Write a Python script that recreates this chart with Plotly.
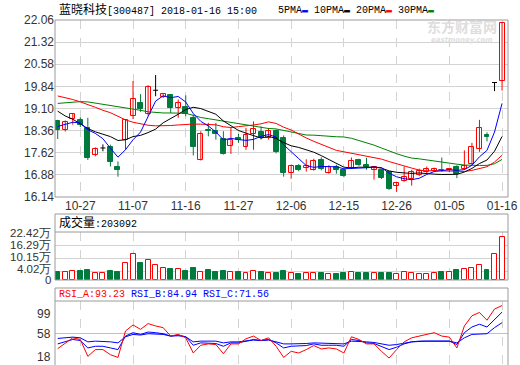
import plotly.graph_objects as go

# ---------------- data ----------------
dates = ["10-24","10-25","10-26","10-27","10-30","10-31","11-01","11-02","11-03","11-06",
         "11-07","11-08","11-09","11-10","11-13","11-14","11-15","11-16","11-17","11-20",
         "11-21","11-22","11-23","11-24","11-27","11-28","11-29","11-30","12-01","12-04",
         "12-05","12-06","12-07","12-08","12-11","12-12","12-13","12-14","12-15","12-18",
         "12-19","12-20","12-21","12-22","12-25","12-26","12-27","12-28","12-29","01-02",
         "01-03","01-04","01-05","01-08","01-09","01-10","01-11","01-12","01-15","01-16"]
tick_dates = ["10-27","11-07","11-16","11-27","12-06","12-15","12-26","01-05","01-16"]

opens = [18.67,18.38,18.75,18.73,18.45,17.53,17.78,17.81,17.13,18.06,
         18.86,19.28,18.92,19.71,19.50,19.55,19.12,19.14,18.79,17.38,
         18.37,18.36,18.09,17.83,18.10,17.81,18.25,18.30,18.11,18.34,
         18.11,16.93,17.17,17.12,17.05,17.38,16.95,17.16,17.03,17.10,
         17.38,17.20,17.04,17.04,16.98,16.52,16.67,16.74,16.86,16.97,
         17.00,17.05,17.03,17.16,17.08,17.25,17.76,18.20,19.97,20.03]
highs = [18.72,18.70,18.95,18.80,18.79,17.80,17.90,17.89,17.33,18.72,
         20.02,19.58,19.88,20.22,19.62,19.57,19.40,19.54,18.90,18.34,
         18.62,18.62,18.34,18.45,18.25,18.45,18.67,18.50,18.45,18.40,
         18.20,17.22,17.24,17.40,17.42,17.47,17.20,17.22,17.08,17.46,
         17.42,17.45,17.16,17.08,17.00,16.65,17.16,17.05,17.09,17.16,
         17.12,17.46,17.10,17.20,17.70,17.95,18.72,18.30,19.97,21.96]
lows = [18.08,18.33,18.56,18.48,17.38,17.50,17.67,17.16,16.82,17.72,
        18.75,18.99,18.86,19.51,19.45,18.95,18.79,18.84,17.53,17.36,
        18.17,18.06,17.56,17.58,17.95,17.72,17.72,18.06,18.06,17.60,
        16.82,16.75,17.00,16.99,17.02,17.03,16.92,16.92,16.80,17.08,
        17.18,17.05,16.72,16.74,16.38,16.31,16.65,16.52,16.84,16.93,
        16.97,16.98,16.98,16.77,17.05,17.20,17.65,18.00,19.68,19.70]
closes = [18.37,18.66,18.90,18.55,17.46,17.76,17.78,17.31,17.05,18.70,
          19.43,19.07,19.83,19.71,19.58,19.12,19.27,18.90,17.80,18.26,
          18.35,18.26,17.58,18.06,18.05,18.22,18.42,18.11,18.34,17.63,
          16.93,17.18,17.04,17.18,17.33,17.07,17.13,17.04,16.85,17.36,
          17.20,17.14,17.14,16.78,16.42,16.60,16.82,16.97,17.02,17.06,
          17.09,17.03,17.07,16.90,17.18,17.82,18.45,18.15,19.97,21.96]

# moving-average values before a full window is available
ma5_head = [18.50, 18.58, 18.64, 18.62]
ma10_head = [19.01, 18.85, 18.74, 18.58, 18.43, 18.32, 18.24, 18.16, 18.03]
ma20_head = [19.52, 19.47, 19.40, 19.32, 19.24, 19.14, 19.04, 18.96, 18.84, 18.72,
             18.64, 18.58, 18.54, 18.52, 18.52, 18.53, 18.55, 18.57, 18.58]
ma30_head = [19.27, 19.29, 19.31, 19.33, 19.32, 19.28, 19.25, 19.22, 19.18, 19.14,
             19.10, 19.04, 18.99, 18.96, 18.95, 18.95, 18.95, 18.94, 18.87, 18.80,
             18.76, 18.72, 18.67, 18.62, 18.59, 18.56, 18.51, 18.46, 18.43]

volumes = [38000,38000,41000,43000,47000,33000,33000,43000,38000,79000,
           122000,81000,93000,69000,55000,52000,51000,43000,57000,36000,
           47000,38000,43000,36000,38000,32000,41000,38000,33000,33000,
           43000,32000,28000,32000,32000,33000,27000,28000,33000,36000,
           33000,33000,32000,33000,33000,27000,36000,32000,27000,27000,
           32000,38000,36000,47000,51000,58000,69000,47000,122000,203092]

rsi_a = [38.7,46.0,52.4,50.3,28.9,37.5,37.5,31.0,27.6,61.0,
         68.7,63.1,70.4,67.4,65.3,54.6,56.7,52.4,33.2,43.0,
         44.7,43.9,32.3,44.7,44.7,51.2,54.6,49.0,52.4,41.7,
         27.6,35.3,33.2,37.5,42.6,38.3,39.6,38.3,33.2,53.7,
         50.3,44.7,44.7,35.3,26.8,37.5,47.3,52.4,54.6,56.7,
         58.9,54.6,53.3,39.6,67.4,80.3,84.5,74.7,88.8,93.23]
rsi_b = [44.7,47.3,50.3,49.0,39.6,41.7,41.7,39.6,37.5,54.6,
         58.9,56.7,59.7,58.9,57.6,54.6,55.9,53.7,43.0,46.0,
         46.0,45.2,41.7,46.0,46.0,48.2,50.3,49.0,50.3,46.0,
         39.6,41.7,41.7,42.6,44.7,43.0,43.0,43.0,41.7,50.3,
         49.0,46.0,45.2,41.7,37.5,40.5,44.7,47.3,48.2,48.2,
         48.2,48.2,48.2,43.9,58.9,66.1,69.6,66.1,76.0,84.94]
rsi_c = [51.6,52.4,53.3,52.4,47.3,48.2,48.2,47.3,46.0,53.7,
         56.7,55.9,57.6,57.6,56.7,54.6,55.0,53.7,47.3,48.2,
         48.2,48.2,46.0,47.3,47.3,48.2,49.5,49.0,49.5,47.3,
         44.7,44.7,44.7,45.2,46.0,45.6,45.6,45.6,44.7,48.2,
         48.2,47.3,46.5,45.2,43.0,43.9,46.0,47.3,48.2,48.2,
         48.2,48.2,48.2,46.0,52.4,56.7,57.6,57.6,65.3,71.56]

price_ticks = [22.06, 21.32, 20.58, 19.84, 19.10, 18.36, 17.62, 16.88, 16.14]
vol_ticks = [22.42, 16.29, 10.15, 4.02, 0]
rsi_ticks = [99, 58, 18]

# ---------------- styles ----------------
RED = "#FF0000"
GREEN = "#007A3D"
GRID = "#D3D3D3"
BORDER = "#9A9A9A"
TXT = "#333333"
W = 0.66
W_PX, H_PX = 520, 365
ML, MR, MT, MB = 55, 12, 20, 0


def py(p):
    return (H_PX - MB - p) / (H_PX - MT - MB)


def px_x(p):
    return (p - ML) / (W_PX - ML - MR)


n = len(dates)
idx = list(range(n))


def ma(head, w):
    out = list(head)
    for i in range(len(head), n):
        out.append(sum(closes[i - w + 1:i + 1]) / w)
    return out


ma5, ma10, ma20, ma30 = ma(ma5_head, 5), ma(ma10_head, 10), ma(ma20_head, 20), ma(ma30_head, 30)

up = [i for i in idx if closes[i] > opens[i]]
dn = [i for i in idx if closes[i] < opens[i]]
dj = [i for i in idx if closes[i] == opens[i]]


def wicks(ids):
    xs, ys = [], []
    for i in ids:
        xs += [i, i, None]
        ys += [lows[i], highs[i], None]
    return xs, ys


fig = go.Figure()

# wicks
for ids, col in ((up, RED), (dn, GREEN), (dj, "#000000")):
    xs, ys = wicks(ids)
    fig.add_trace(go.Scatter(x=xs, y=ys, mode="lines", line=dict(color=col, width=1),
                             hoverinfo="skip", showlegend=False, xaxis="x", yaxis="y"))
# bodies
fig.add_trace(go.Bar(x=up, y=[closes[i] - opens[i] for i in up], base=[opens[i] for i in up],
                     width=W, marker=dict(color="white", line=dict(color=RED, width=1)),
                     showlegend=False, xaxis="x", yaxis="y"))
fig.add_trace(go.Bar(x=dn, y=[opens[i] - closes[i] for i in dn], base=[closes[i] for i in dn],
                     width=W, marker=dict(color=GREEN, line=dict(color=GREEN, width=1)),
                     showlegend=False, xaxis="x", yaxis="y"))
dx, dy = [], []
for i in dj:
    dx += [i - W / 2, i + W / 2, None]
    dy += [closes[i], closes[i], None]
fig.add_trace(go.Scatter(x=dx, y=dy, mode="lines", line=dict(color="#000000", width=1),
                         showlegend=False, hoverinfo="skip", xaxis="x", yaxis="y"))

# moving averages
for vals, col in ((ma30, "#008000"), (ma20, RED), (ma10, "#000000"), (ma5, "#0000FF")):
    fig.add_trace(go.Scatter(x=idx, y=vals, mode="lines", line=dict(color=col, width=1),
                             showlegend=False, xaxis="x", yaxis="y"))

# volume
vup = [i for i in idx if closes[i] >= opens[i]]
vdn = [i for i in idx if closes[i] < opens[i]]
fig.add_trace(go.Bar(x=vup, y=[volumes[i] / 1e4 for i in vup], width=W,
                     marker=dict(color="white", line=dict(color=RED, width=1)),
                     showlegend=False, xaxis="x2", yaxis="y2"))
fig.add_trace(go.Bar(x=vdn, y=[volumes[i] / 1e4 for i in vdn], width=W,
                     marker=dict(color=GREEN, line=dict(color=GREEN, width=1)),
                     showlegend=False, xaxis="x2", yaxis="y2"))

# RSI
for vals, col in ((rsi_c, "#0000FF"), (rsi_b, "#0000FF"), (rsi_a, RED)):
    fig.add_trace(go.Scatter(x=idx, y=vals, mode="lines", line=dict(color=col, width=1),
                             showlegend=False, xaxis="x3", yaxis="y3"))

tickvals = [dates.index(d) for d in tick_dates]
xr = [-0.36, n - 0.21]
xcommon = dict(range=xr, tickvals=tickvals, showgrid=True, gridcolor=GRID, griddash="dash",
               gridwidth=1, zeroline=False, showline=False, fixedrange=True, automargin=False)

fig.update_layout(
    width=W_PX, height=H_PX,
    margin=dict(l=ML, r=MR, t=MT, b=MB, pad=0, autoexpand=False),
    paper_bgcolor="white", plot_bgcolor="white",
    barmode="overlay", bargap=0,
    showlegend=False,
    font=dict(family="Liberation Sans, Arial, sans-serif", size=12, color=TXT),
    xaxis=dict(**xcommon, anchor="y", ticktext=tick_dates, ticks="",
               tickfont=dict(size=12, color=TXT)),
    yaxis=dict(domain=[py(197), 1], range=[price_ticks[-1], price_ticks[0]],
               tickvals=price_ticks, ticktext=["%.2f" % v for v in price_ticks],
               showgrid=True, gridcolor=GRID, zeroline=False, ticks="", automargin=False,
               tickfont=dict(size=12, color=TXT)),
    xaxis2=dict(**xcommon, anchor="y2", matches="x", showticklabels=False),
    yaxis2=dict(domain=[py(280), py(232)], range=[vol_ticks[-1], vol_ticks[0]],
                tickvals=vol_ticks, showticklabels=False,
                showgrid=True, gridcolor=GRID, zeroline=False, ticks="", automargin=False),
    xaxis3=dict(**xcommon, anchor="y3", matches="x", showticklabels=False),
    yaxis3=dict(domain=[0, py(301)], range=[rsi_ticks[-1], rsi_ticks[0]],
                tickvals=[rsi_ticks[1]], showticklabels=False, automargin=False,
                showgrid=True, gridcolor="#C0C0C0", zeroline=False, ticks=""),
)

# panel borders
shapes = []
for y0, y1 in ((197, 20), (280, 214), (366, 288)):
    shapes.append(dict(type="rect", xref="paper", yref="paper", x0=0, x1=1,
                       y0=py(y0), y1=py(y1), line=dict(color=BORDER, width=1), layer="above"))
for yl in (232, 301):
    shapes.append(dict(type="line", xref="paper", yref="paper", x0=0, x1=1,
                       y0=py(yl), y1=py(yl), line=dict(color=BORDER, width=1), layer="above"))
fig.update_layout(shapes=shapes)

mono = "Liberation Mono, Noto Sans CJK SC, monospace"
ann = []
ann.append(dict(x=px_x(57), y=py(10), xref="paper", yref="paper", xanchor="left", yanchor="middle",
                text="<span style='font-size:12px'>蓝晓科技</span>[300487] 2018-01-16 15:00",
                showarrow=False, font=dict(family=mono, size=10, color="#000000")))
legend_txt = ("5PMA<span style='color:#0000FF'>▬</span> 10PMA<span style='color:#000000'>▬</span> "
              "20PMA<span style='color:#FF0000'>▬</span> 30PMA<span style='color:#008000'>▬</span>")
ann.append(dict(x=px_x(276), y=py(10), xref="paper", yref="paper", xanchor="left", yanchor="middle",
                text=legend_txt, showarrow=False, font=dict(family=mono, size=10, color="#000000")))
# watermark
ann.append(dict(x=px_x(462), y=py(26), xref="paper", yref="paper", xanchor="center", yanchor="middle",
                text="<b>东方财富网</b>", showarrow=False,
                font=dict(family="Noto Sans CJK SC", size=14, color="#DEDEDE")))
ann.append(dict(x=px_x(462), y=py(40), xref="paper", yref="paper", xanchor="center", yanchor="middle",
                text="<b><i>eastmoney.com</i></b>", showarrow=False,
                font=dict(family="DejaVu Sans", size=7, color="#E0E0E0")))
# volume header
ann.append(dict(x=px_x(57), y=py(223), xref="paper", yref="paper", xanchor="left", yanchor="middle",
                text="<span style='font-size:12px'>成交量</span>:%d" % volumes[-1], showarrow=False,
                font=dict(family=mono, size=10, color="#000000")))
# volume axis labels (placed where the original prints them)
for v, ypix in zip(vol_ticks, (232.7, 245, 257.3, 269.3, 280)):
    ann.append(dict(x=px_x(53), y=py(ypix), xref="paper", yref="paper", xanchor="right",
                    yanchor="middle", text=("%.2f万" % v) if v else "0", showarrow=False,
                    font=dict(family="Liberation Sans", size=11.5, color=TXT)))
# RSI header
rsi_hdr = ("<span style='color:#FF0000'>RSI_A:%.2f</span> <span style='color:#0000FF'>RSI_B:%.2f</span> "
           "<span style='color:#0000FF'>RSI_C:%.2f</span>") % (rsi_a[-1], rsi_b[-1], rsi_c[-1])
ann.append(dict(x=px_x(57), y=py(294.5), xref="paper", yref="paper", xanchor="left", yanchor="middle",
                text=rsi_hdr, showarrow=False, font=dict(family=mono, size=10)))
# RSI axis labels (drawn inside the band like the original)
for v, ypix in zip(rsi_ticks, (314, 334, 356.5)):
    ann.append(dict(x=px_x(53), y=py(ypix), xref="paper", yref="paper", xanchor="right",
                    yanchor="middle", text=str(v), showarrow=False,
                    font=dict(family="Liberation Sans", size=12, color=TXT)))
fig.update_layout(annotations=ann)

fig.write_html("out.html", config={"displayModeBar": False},
               post_script="document.body.style.margin='0';")
